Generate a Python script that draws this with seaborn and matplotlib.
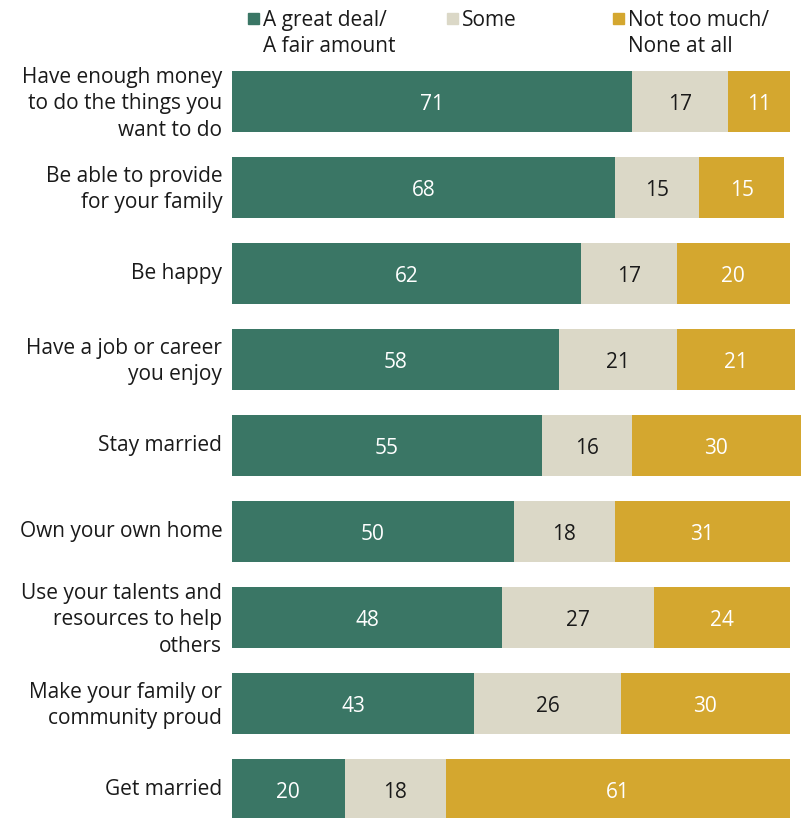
import matplotlib
matplotlib.use("Agg")
import matplotlib.pyplot as plt
from matplotlib.patches import Rectangle
from matplotlib.transforms import ScaledTranslation
import seaborn as sns
import pandas as pd

sns.set_theme(style="white")
plt.rcParams["font.family"] = ["Open Sans", "DejaVu Sans"]

categories = [
    "Have enough money\nto do the things you\nwant to do",
    "Be able to provide\nfor your family",
    "Be happy",
    "Have a job or career\nyou enjoy",
    "Stay married",
    "Own your own home",
    "Use your talents and\nresources to help\nothers",
    "Make your family or\ncommunity proud",
    "Get married",
]
great_deal = [71, 68, 62, 58, 55, 50, 48, 43, 20]
some = [17, 15, 17, 21, 16, 18, 27, 26, 18]
not_much = [11, 15, 20, 21, 30, 31, 24, 30, 61]

series_names = ["A great deal/\nA fair amount", "Some", "Not too much/\nNone at all"]
colors = ["#3a7665", "#dbd8c7", "#d4a72f"]
text_colors = ["white", "#1a1a1a", "white"]

df = pd.DataFrame({"category": categories, "great": great_deal,
                   "some": some, "not": not_much})

W, H = 802, 818
FS = 15
LS = 1.34
fig = plt.figure(figsize=(W / 100, H / 100), dpi=100)
ax = fig.add_axes([232 / W, 0, (W - 232) / W, 758 / H])

# Open Sans sits a little high/low relative to its box; nudge text a few px
value_shift = ax.transData + ScaledTranslation(0, -0.025, fig.dpi_scale_trans)

lefts = [0] * len(categories)
for col, color, tcol in zip(["great", "some", "not"], colors, text_colors):
    sns.barplot(data=df, x=col, y="category", left=lefts, color=color,
                orient="h", width=0.71, ax=ax, saturation=1, linewidth=0)
    for i, (v, l) in enumerate(zip(df[col], lefts)):
        ax.text(l + v / 2, i, f"{v}", ha="center", va="center",
                color=tcol, fontsize=FS, transform=value_shift)
    lefts = [l + v for l, v in zip(lefts, df[col])]

ax.set_xlim(0, 101.2)
ax.set_ylim(8.331, -0.4826)
ax.set_xlabel("")
ax.set_ylabel("")
ax.set_xticks([])
ax.tick_params(axis="y", length=0, pad=7, labelsize=FS, labelcolor="#1a1a1a")
label_shift = ScaledTranslation(0, 0.03, fig.dpi_scale_trans)
for lab in ax.get_yticklabels():
    lab.set_linespacing(LS)
    lab.set_transform(lab.get_transform() + label_shift)
sns.despine(ax=ax, left=True, bottom=True)

# legend drawn at the top of the figure
legend_x = [248, 447, 613]
for x, name, color in zip(legend_x, series_names, colors):
    fig.patches.append(Rectangle((x / W, 1 - 24 / H), 11 / W, 11 / H,
                                 transform=fig.transFigure, color=color))
    fig.text((x + 15) / W, 1 - 10 / H, name, ha="left", va="top",
             fontsize=FS, color="#1a1a1a", linespacing=LS)

fig.savefig("out.png", dpi=100, facecolor="white")
